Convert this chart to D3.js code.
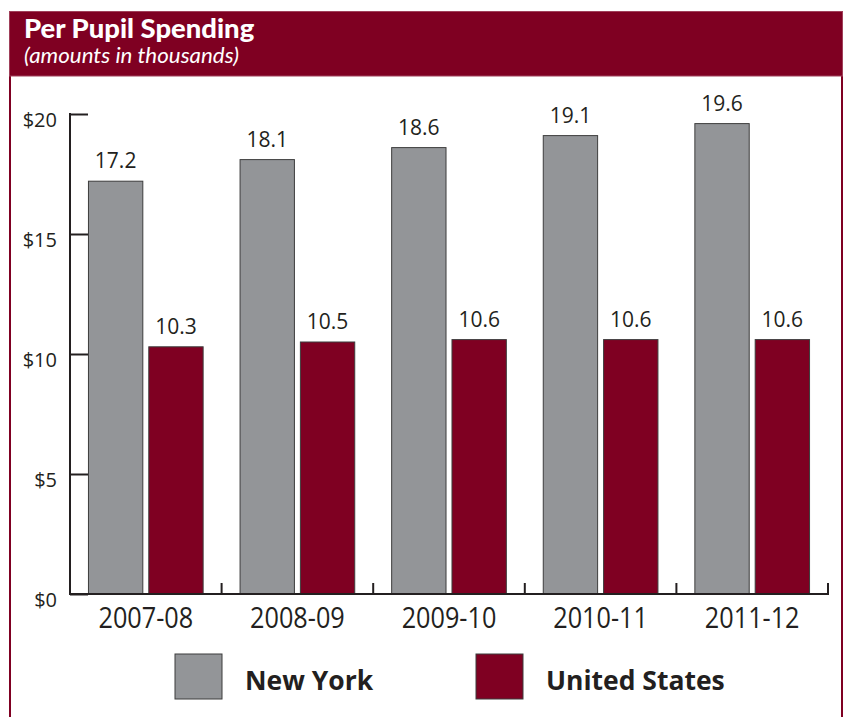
<!DOCTYPE html>
<html>
<head>
<meta charset="utf-8">
<script src="https://cdn.jsdelivr.net/npm/d3@7"></script>
<style>
  html, body { margin: 0; padding: 0; background: #ffffff; }
  svg { display: block; }
</style>
</head>
<body>
<svg id="chart" width="846" height="717"></svg>
<script>
// Per pupil spending, in thousands of dollars
const years = ["2007-08", "2008-09", "2009-10", "2010-11", "2011-12"];
const seriesNames = ["New York", "United States"];
const newYork = [17.2, 18.1, 18.6, 19.1, 19.6];
const unitedStates = [10.3, 10.5, 10.6, 10.6, 10.6];
const yTicks = [0, 5, 10, 15, 20];
const yTickLabels = ["$0", "$5", "$10", "$15", "$20"];

const maroon = "#7f0022";
const gray = "#939598";
const ink = "#231f20";
const colors = { "New York": gray, "United States": maroon };

const svg = d3.select("#chart");

// Frame and header band
svg.append("line").attr("x1", 10).attr("x2", 10).attr("y1", 11).attr("y2", 717)
  .attr("stroke", maroon).attr("stroke-width", 2);
svg.append("line").attr("x1", 842).attr("x2", 842).attr("y1", 11).attr("y2", 717)
  .attr("stroke", maroon).attr("stroke-width", 2);
svg.append("rect").attr("x", 9.5).attr("y", 11.5).attr("width", 833).attr("height", 64.5)
  .attr("fill", maroon).attr("stroke", "#a0405a").attr("stroke-width", 1);

svg.append("text").attr("transform", "translate(24,37.5) scale(1.055,1)")
  .attr("font-family", "Lato, sans-serif").attr("font-weight", 900)
  .attr("font-size", 26).attr("fill", "#ffffff")
  .text("Per Pupil Spending");
svg.append("text").attr("transform", "translate(24,63) scale(1.09,1)")
  .attr("font-family", "Lato, sans-serif").attr("font-style", "italic")
  .attr("font-size", 20.5).attr("fill", "#ffffff")
  .text("(amounts in thousands)");

// Scales
const x = d3.scaleBand().domain(years).range([70, 828]).padding(0);
const xInner = d3.scaleBand().domain(seriesNames).range([0, x.bandwidth()])
  .paddingInner(0.099).paddingOuter(0.306);
const y = d3.scaleLinear().domain([0, 20]).range([594, 114]);

const rows = years.map((yr, i) => ({
  year: yr,
  values: [
    { series: "New York", value: newYork[i] },
    { series: "United States", value: unitedStates[i] }
  ]
}));

// Bars
const groups = svg.append("g").selectAll("g").data(rows).join("g")
  .attr("transform", d => `translate(${x(d.year)},0)`);

groups.selectAll("rect").data(d => d.values).join("rect")
  .attr("x", d => xInner(d.series))
  .attr("y", d => y(d.value))
  .attr("width", xInner.bandwidth())
  .attr("height", d => y(0) - y(d.value))
  .attr("fill", d => colors[d.series])
  .attr("stroke", "#3d3d3d").attr("stroke-width", 1);

groups.selectAll("text").data(d => d.values).join("text")
  .attr("x", d => xInner(d.series) + xInner.bandwidth() / 2)
  .attr("y", d => y(d.value) - 13)
  .attr("text-anchor", "middle")
  .attr("font-family", "'Open Sans', sans-serif").attr("font-size", 21)
  .attr("fill", ink)
  .text(d => d.value.toFixed(1));

// Y axis: inward ticks to the right
const yAxis = d3.axisRight(y).tickValues(yTicks).tickSize(18).tickFormat("");
const gy = svg.append("g").attr("transform", "translate(70,0)").call(yAxis);
gy.select(".domain").remove();
gy.selectAll(".tick line").attr("stroke", ink).attr("stroke-width", 2);
svg.append("line").attr("x1", 70).attr("x2", 70).attr("y1", y(20) - 1).attr("y2", y(0) + 1)
  .attr("stroke", ink).attr("stroke-width", 2);

svg.append("g").selectAll("text").data(yTicks).join("text")
  .attr("x", 57).attr("y", d => y(d) + 12.5)
  .attr("text-anchor", "end")
  .attr("font-family", "'Open Sans', sans-serif").attr("font-size", 20)
  .attr("fill", ink)
  .text((d, i) => yTickLabels[i]);

// X axis: baseline with upward ticks at group boundaries
svg.append("line").attr("x1", 69).attr("x2", 829).attr("y1", y(0)).attr("y2", y(0))
  .attr("stroke", ink).attr("stroke-width", 2);
const boundaries = years.slice(1).map(d => x(d)).concat([x.range()[1]]);
svg.append("g").selectAll("line").data(boundaries).join("line")
  .attr("x1", d => d).attr("x2", d => d)
  .attr("y1", y(0)).attr("y2", y(0) - 11)
  .attr("stroke", ink).attr("stroke-width", 2);

svg.append("g").selectAll("text").data(years).join("text")
  .attr("transform", d => `translate(${x(d) + x.bandwidth() / 2},628) scale(0.87,1)`)
  .attr("text-anchor", "middle")
  .attr("font-family", "'Open Sans', sans-serif").attr("font-size", 29)
  .attr("fill", ink)
  .text(d => d);

// Legend
const legendX = { "New York": 175, "United States": 476 };
const legend = svg.append("g").selectAll("g").data(seriesNames).join("g")
  .attr("transform", d => `translate(${legendX[d]},654)`);
legend.append("rect")
  .attr("x", 0).attr("y", 0).attr("width", 47).attr("height", 45)
  .attr("fill", d => colors[d]).attr("stroke", "#3d3d3d").attr("stroke-width", 1);
legend.append("text")
  .attr("x", 70).attr("y", 36)
  .attr("font-family", "'Open Sans', sans-serif").attr("font-weight", 700)
  .attr("font-size", 26.5).attr("fill", ink)
  .text(d => d);
</script>
</body>
</html>
